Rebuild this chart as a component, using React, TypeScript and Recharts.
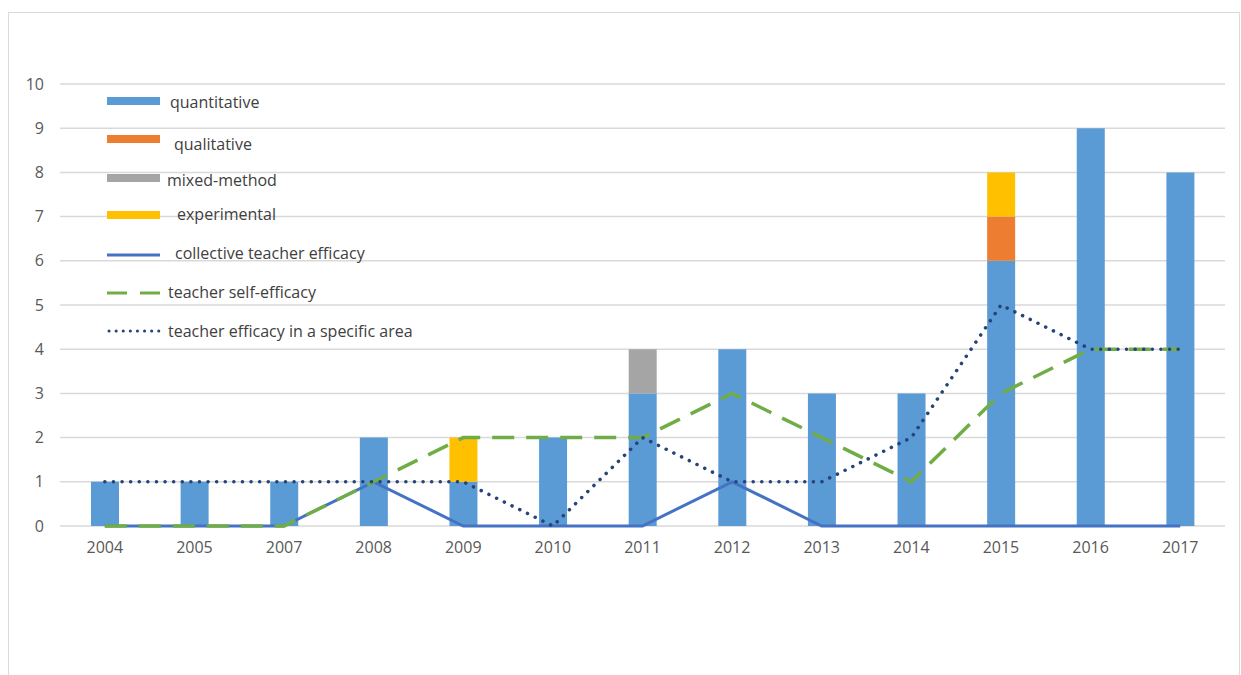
import React from 'react';
import {
  ComposedChart,
  Bar,
  Line,
  XAxis,
  YAxis,
  CartesianGrid,
} from 'recharts';

const years = ['2004', '2005', '2007', '2008', '2009', '2010', '2011', '2012', '2013', '2014', '2015', '2016', '2017'];
const quantitative = [1, 1, 1, 2, 1, 2, 3, 4, 3, 3, 6, 9, 8];
const qualitative = [0, 0, 0, 0, 0, 0, 0, 0, 0, 0, 1, 0, 0];
const mixedMethod = [0, 0, 0, 0, 0, 0, 1, 0, 0, 0, 0, 0, 0];
const experimental = [0, 0, 0, 0, 1, 0, 0, 0, 0, 0, 1, 0, 0];
const collective = [0, 0, 0, 1, 0, 0, 0, 1, 0, 0, 0, 0, 0];
const selfEfficacy = [0, 0, 0, 1, 2, 2, 2, 3, 2, 1, 3, 4, 4];
const specificArea = [1, 1, 1, 1, 1, 0, 2, 1, 1, 2, 5, 4, 4];
const yTicks = [0, 1, 2, 3, 4, 5, 6, 7, 8, 9, 10];

const data = years.map((year, i) => ({
  year,
  quantitative: quantitative[i],
  qualitative: qualitative[i],
  mixedMethod: mixedMethod[i],
  experimental: experimental[i],
  collective: collective[i],
  selfEfficacy: selfEfficacy[i],
  specificArea: specificArea[i],
}));

const FONT = '"Open Sans", "Liberation Sans", sans-serif';
const TEXT = '#595959';

// legend entries sit inside the plot, spaced unevenly like the original
const legendItems = [
  { label: 'quantitative', kind: 'bar', color: '#5B9BD5', y: 101, ty: 102, tx: 170 },
  { label: 'qualitative', kind: 'bar', color: '#ED7D31', y: 139, ty: 144, tx: 174 },
  { label: 'mixed-method', kind: 'bar', color: '#A5A5A5', y: 178, ty: 180, tx: 167 },
  { label: 'experimental', kind: 'bar', color: '#FFC000', y: 215, ty: 214, tx: 177 },
  { label: 'collective teacher efficacy', kind: 'solid', color: '#4472C4', y: 255, ty: 253, tx: 175 },
  { label: 'teacher self-efficacy', kind: 'dash', color: '#70AD47', y: 293, ty: 292, tx: 168 },
  { label: 'teacher efficacy in a specific area', kind: 'dot', color: '#264478', y: 331, ty: 331, tx: 168 },
];

const Swatch = ({ kind, color }: { kind: string; color: string }) => {
  if (kind === 'bar') {
    return <rect x={0} y={-4} width={53} height={8} fill={color} />;
  }
  const dash = kind === 'dash' ? '20 13' : kind === 'dot' ? '0.1 7' : undefined;
  return (
    <line
      x1={kind === 'dot' ? 2 : 0}
      y1={0}
      x2={53}
      y2={0}
      stroke={color}
      strokeWidth={3}
      strokeDasharray={dash}
      strokeLinecap={kind === 'dot' ? 'round' : 'butt'}
    />
  );
};

const App = () => {
  return (
    <div
      style={{
        position: 'absolute',
        left: 0,
        top: 0,
        width: 1241,
        height: 675,
        background: '#fff',
        fontFamily: FONT,
        overflow: 'hidden',
      }}
    >
      <div
        style={{
          position: 'absolute',
          left: 8,
          top: 12,
          width: 1230,
          height: 680,
          border: '1px solid #d9d9d9',
        }}
      />
      <div style={{ position: 'absolute', left: 0, top: 0 }}>
        <ComposedChart
          width={1241}
          height={675}
          data={data}
          margin={{ top: 84, right: 16, bottom: 119, left: 0 }}
          barSize={28}
        >
          <CartesianGrid vertical={false} stroke="#d9d9d9" strokeWidth={1.5} />
          <XAxis
            dataKey="year"
            height={30}
            axisLine={false}
            tickLine={false}
            tickMargin={10}
            tick={{ fill: TEXT, fontSize: 16, fontFamily: FONT }}
            interval={0}
          />
          <YAxis
            width={60}
            domain={[0, 10]}
            ticks={yTicks}
            axisLine={false}
            tickLine={false}
            tickMargin={10}
            tick={{ fill: TEXT, fontSize: 16, fontFamily: FONT }}
          />
          <Bar dataKey="quantitative" stackId="a" fill="#5B9BD5" isAnimationActive={false} />
          <Bar dataKey="qualitative" stackId="a" fill="#ED7D31" isAnimationActive={false} />
          <Bar dataKey="mixedMethod" stackId="a" fill="#A5A5A5" isAnimationActive={false} />
          <Bar dataKey="experimental" stackId="a" fill="#FFC000" isAnimationActive={false} />
          <Line
            type="linear"
            dataKey="collective"
            stroke="#4472C4"
            strokeWidth={3}
            dot={false}
            isAnimationActive={false}
          />
          <Line
            type="linear"
            dataKey="selfEfficacy"
            stroke="#70AD47"
            strokeWidth={3.5}
            strokeDasharray="22 12"
            dot={false}
            isAnimationActive={false}
          />
          <Line
            type="linear"
            dataKey="specificArea"
            stroke="#264478"
            strokeWidth={3.5}
            strokeDasharray="0.1 8.5"
            strokeLinecap="round"
            dot={false}
            isAnimationActive={false}
          />
        </ComposedChart>
      </div>
      <svg
        width={1241}
        height={675}
        style={{ position: 'absolute', left: 0, top: 0, pointerEvents: 'none' }}
      >
        {legendItems.map((item) => (
          <g key={item.label}>
            <g transform={`translate(107, ${item.y})`}>
              <Swatch kind={item.kind} color={item.color} />
            </g>
            <text
              x={item.tx}
              y={item.ty}
              dominantBaseline="central"
              fontSize={16}
              fontFamily={FONT}
              fill="#404040"
            >
              {item.label}
            </text>
          </g>
        ))}
      </svg>
    </div>
  );
};

export default App;
